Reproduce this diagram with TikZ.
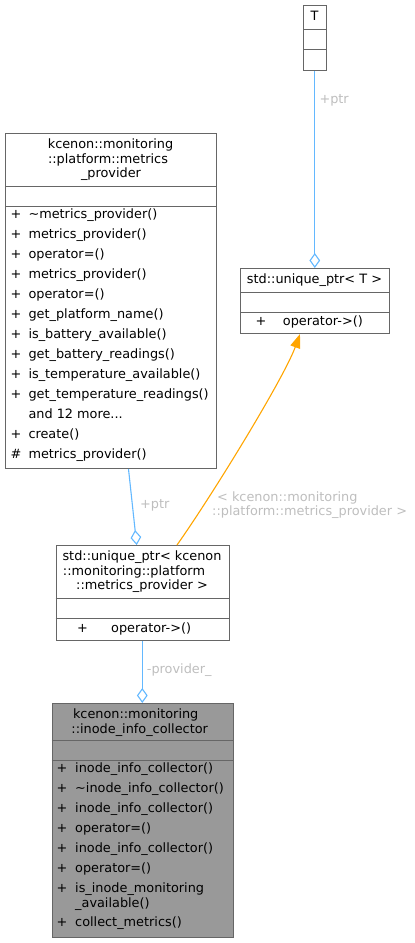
\documentclass[tikz,border=0pt]{standalone}
\usepackage{fontspec}
\setmainfont{DejaVu Sans}
\usetikzlibrary{arrows.meta,calc}
\definecolor{bordergray}{HTML}{666666}
\definecolor{fillgray}{HTML}{999999}
\definecolor{edgeblue}{HTML}{63B8FF}
\definecolor{edgeorange}{HTML}{FFA500}
\definecolor{labelgray}{HTML}{BEBEBE}
\tikzset{
  umlbox/.style={draw=bordergray, line width=1pt, fill=white, inner sep=0pt, anchor=north west},
  sepline/.style={draw=bordergray, line width=1pt},
  txt/.style={font=\fontsize{12.85}{14.5}\selectfont, inner sep=0pt, text height=9.5pt, text depth=3pt, text=black},
  ltxt/.style={txt, anchor=west},
  elabel/.style={txt, text=labelgray, anchor=west},
  aggr/.style={draw=edgeblue, line width=1.1pt, -{Diamond[open, length=15pt, width=10.7pt]}},
  tmpl/.style={draw=edgeorange, line width=1.1pt, -{Triangle[length=14pt, width=10pt]}},
}
\begin{document}
\begin{tikzpicture}[x=1pt, y=-1pt]
\useasboundingbox (0,0) rectangle (415,943);

% ---- T ----
\node[umlbox, minimum width=23pt, minimum height=65pt] (T) at (303,5) {};
\draw[sepline] (303,29) -- (326,29);
\draw[sepline] (303,49) -- (326,49);
\node[txt] (Tt) at (314.5,17) {T};

% ---- std::unique_ptr< T > ----
\node[umlbox, minimum width=149pt, minimum height=65pt] (uT) at (240,268) {};
\draw[sepline] (240,292) -- (389,292);
\draw[sepline] (240,312) -- (389,312);
\node[txt] (uTt) at (314.5,280) {std::unique\_ptr< T >};
\node[txt] (uTp) at (261,322.5) {+};
\node[ltxt] (uTo) at (282.7,322.5) {operator->()};

% ---- metrics_provider ----
\node[umlbox, minimum width=211pt, minimum height=335pt] (mp) at (5,133) {};
\draw[sepline] (5,186) -- (216,186);
\draw[sepline] (5,206) -- (216,206);
\node[txt] (mpt1) at (110.5,145.5) {kcenon::monitoring};
\node[txt] (mpt2) at (108,160) {::platform::metrics};
\node[txt] (mpt3) at (111,174.5) {\_provider};
\foreach \i/\s/\m in {0/+/{\textasciitilde metrics\_provider()},
                      1/+/{metrics\_provider()},
                      2/+/{operator=()},
                      3/+/{metrics\_provider()},
                      4/+/{operator=()},
                      5/+/{get\_platform\_name()},
                      6/+/{is\_battery\_available()},
                      7/+/{get\_battery\_readings()},
                      8/+/{is\_temperature\_available()},
                      9/+/{get\_temperature\_readings()},
                      10/{}/{and 12 more...},
                      11/+/{create()},
                      12/\#/{metrics\_provider()}}{
  \node[txt] (mps\i) at (16,215.5+20*\i) {\s};
  \node[ltxt] (mpm\i) at (28.3,215.5+20*\i) {\m};
}

% ---- std::unique_ptr< metrics_provider > ----
\node[umlbox, minimum width=173.3pt, minimum height=95pt] (uM) at (55.7,545) {};
\draw[sepline] (55.7,598) -- (229,598);
\draw[sepline] (55.7,618) -- (229,618);
\node[txt] (uMt1) at (142,557.5) {std::unique\_ptr< kcenon};
\node[txt] (uMt2) at (134,572) {::monitoring::platform};
\node[txt] (uMt3) at (142,586.5) {::metrics\_provider >};
\node[txt] (uMp) at (82.5,629) {+};
\node[ltxt] (uMo) at (111,629) {operator->()};

% ---- inode_info_collector ----
\node[umlbox, fill=fillgray, minimum width=181.3pt, minimum height=234pt] (ic) at (51.7,703) {};
\draw[sepline] (51.7,740) -- (233,740);
\draw[sepline] (51.7,760) -- (233,760);
\node[txt] (ict1) at (135.7,715.5) {kcenon::monitoring};
\node[txt] (ict2) at (139.7,730) {::inode\_info\_collector};
\foreach \i/\s/\m/\y in {0/+/{inode\_info\_collector()}/769.5,
                         1/+/{\textasciitilde inode\_info\_collector()}/789.5,
                         2/+/{inode\_info\_collector()}/809.5,
                         3/+/{operator=()}/829.5,
                         4/+/{inode\_info\_collector()}/849.5,
                         5/+/{operator=()}/869.5,
                         6/+/{is\_inode\_monitoring}/889.5,
                         7/{}/{\_available()}/904,
                         8/+/{collect\_metrics()}/923.5}{
  \node[txt] (ics\i) at (62,\y) {\s};
  \node[ltxt] (icm\i) at (75,\y) {\m};
}

% ---- connectors ----
\coordinate (Tout) at ($(T.south west)+(11.8,0)$);
\coordinate (uTtop) at ($(uT.north west)+(74.8,0)$);
\coordinate (mpout) at ($(mp.south west)+(123.5,0)$);
\coordinate (uMin) at ($(uM.north west)+(81,0)$);
\coordinate (uMtop) at ($(uM.north west)+(121.3,0)$);
\coordinate (uMout) at ($(uM.south west)+(86.6,0)$);
\coordinate (icin) at ($(ic.north west)+(90.6,0)$);
\coordinate (uTin) at ($(uT.south west)+(60,0)$);

\draw[aggr] (Tout) -- (uTtop);
\draw[aggr] (mpout) -- (uMin);
\draw[aggr] (uMout) -- (icin);
\draw[tmpl] (uMtop) .. controls (213,494) and (284,378) .. (uTin);

% ---- labels ----
\node[elabel] (l1) at (319.3,100) {+ptr};
\node[elabel] (l2) at (140,505) {+ptr};
\node[elabel] (l3a) at (217,498) {< kcenon::monitoring};
\node[elabel] (l3b) at (212,512.5) {::platform::metrics\_provider >};
\node[elabel] (l4) at (146.7,670) {-provider\_};
\end{tikzpicture}
\end{document}
